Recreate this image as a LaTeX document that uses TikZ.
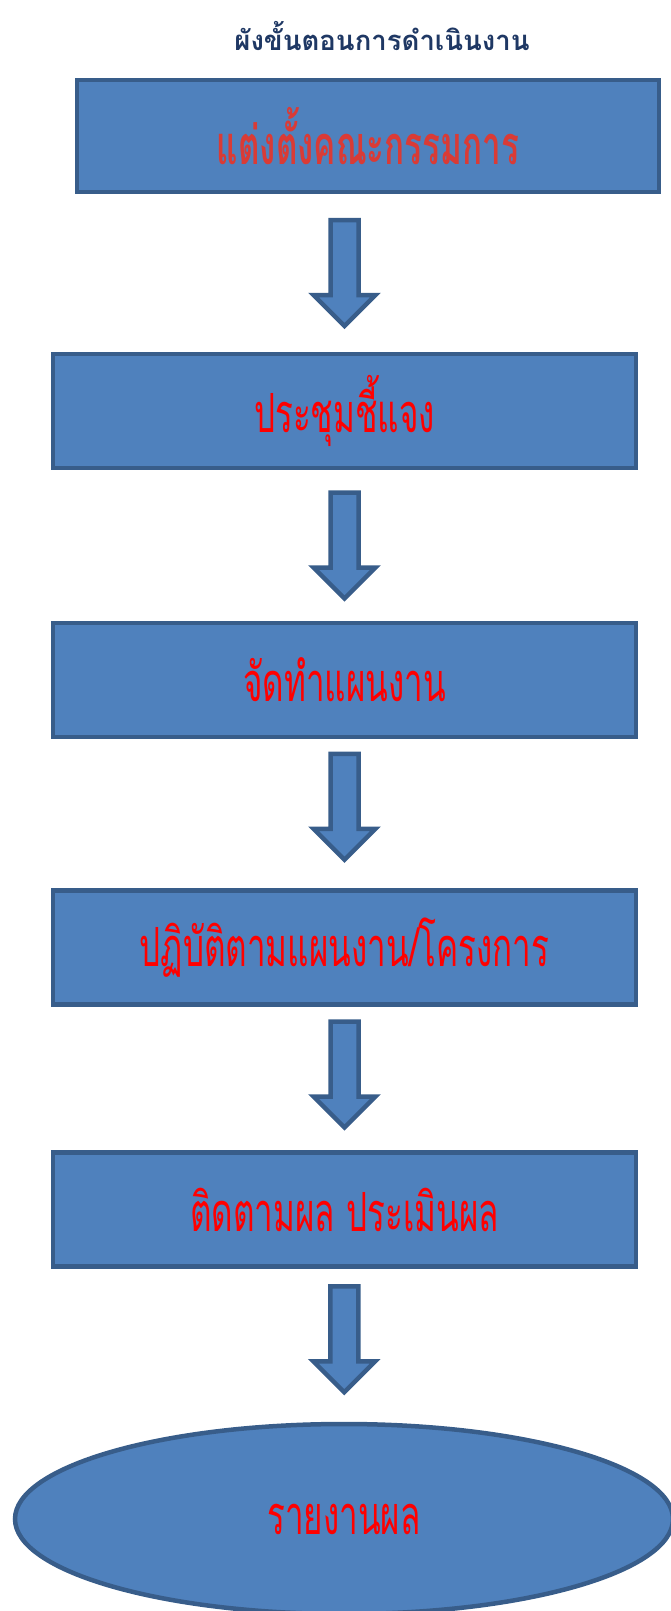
\documentclass[tikz,border=0pt]{standalone}
\usepackage{fontspec}
\newfontfamily\thaititle[Script=Thai]{Loma}
\newfontfamily\thaibox[Script=Thai,FakeStretch=0.615]{Loma}
\usetikzlibrary{shapes.geometric,calc}
\definecolor{boxblue}{HTML}{4F81BD}
\definecolor{boxedge}{HTML}{385D8A}
\definecolor{titleblue}{HTML}{1F3864}
\definecolor{firstred}{HTML}{D93B36}
\tikzset{
	stepbox/.style={draw=boxedge, fill=boxblue, line width=4.5pt, minimum width=583pt, minimum height=114pt, inner sep=0pt, text=red, font=\thaibox\fontsize{54}{60}\selectfont},
	arrowedge/.style={draw=boxedge, fill=boxblue, line width=4.5pt},
	blockdown/.pic={\draw[arrowedge] (-14,-53) -- (14,-53) -- (14,22) -- (31,22) -- (0,53) -- (-31,22) -- (-14,22) -- cycle;},
}
\begin{document}
\begin{tikzpicture}[x=1pt,y=-1pt]
	\useasboundingbox (0,0) rectangle (670,1611);
	\node[text=titleblue, font=\thaititle\bfseries\fontsize{27.5}{32}\selectfont] (title) at (382,36) {ผังขั้นตอนการดำเนินงาน};
	
	\node[stepbox, minimum width=582pt, minimum height=112pt, text=firstred, font=\thaibox\bfseries\fontsize{54}{60}\selectfont] (appoint) at (368,136) {แต่งตั้งคณะกรรมการ};
	\node[stepbox] (meet) at (344.5,411) {ประชุมชี้แจง};
	\node[stepbox] (plan) at (344.5,680) {จัดทำแผนงาน};
	\node[stepbox] (act) at (344.5,947.5) {ปฏิบัติตามแผนงาน/โครงการ};
	\node[stepbox] (follow) at (344.5,1209.5) {ติดตามผล ประเมินผล};
	\node[ellipse, draw=boxedge, fill=boxblue, line width=4.5pt, minimum width=658pt, minimum height=190pt, inner sep=0pt, text=red, font=\thaibox\fontsize{54}{60}\selectfont] (report) at (344,1519) {รายงานผล};
	
	\pic at ($(appoint.south -| meet.north)!.5!(meet.north)$) {blockdown};
	\pic at ($(meet.south)!.5!(plan.north)$) {blockdown};
	\pic[yshift=7pt] at ($(plan.south)!.5!(act.north)$) {blockdown};
	\pic[yshift=4pt] at ($(act.south)!.5!(follow.north)$) {blockdown};
	\pic[yshift=6pt] at ($(follow.south)!.5!(report.north)$) {blockdown};
\end{tikzpicture}
\end{document}
